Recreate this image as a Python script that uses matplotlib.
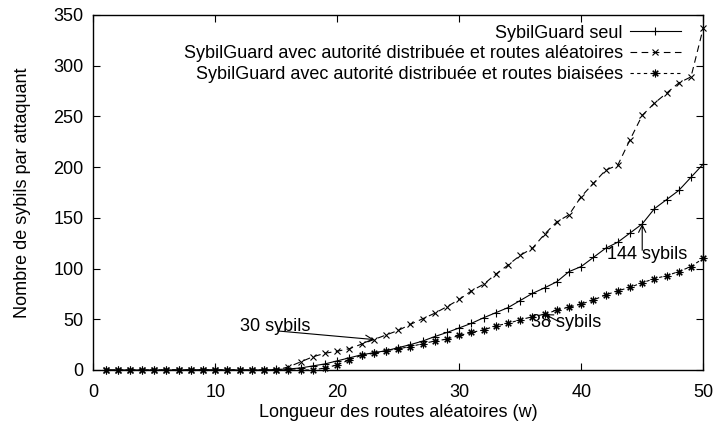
import numpy as np
import matplotlib
matplotlib.use('Agg')
from matplotlib import pyplot as plt

plt.rcParams['font.family'] = ['Liberation Sans', 'DejaVu Sans']
plt.rcParams['font.size'] = 13

# longueur des routes aleatoires
w = np.arange(1, 51)

seul = [0] * 14 + [0.5, 1, 2, 4, 6, 9, 12, 15, 17, 19,
                   22, 25, 28.5, 33, 37, 41.5, 46, 51.5, 56.5, 61.5,
                   68.5, 75.5, 81, 87, 97, 102, 111, 120, 126, 135,
                   144, 159, 168, 177, 190, 203]
aleatoires = [0] * 15 + [3, 8, 13, 16.5, 18.5, 21, 25.5, 30, 34.5,
                         39, 45, 50.5, 56, 62.5, 69.5, 78, 84.5, 94.5, 103.5,
                         113, 120, 134, 146, 153, 171, 184, 197, 202, 227,
                         251, 263, 273, 283, 289, 337]
biaisees = [0] * 18 + [2, 5, 10, 14.5, 16.5, 19,
                       21, 23, 26, 28.5, 30.5, 34, 37, 39.5, 43.5, 46,
                       49.5, 52.5, 55, 59, 62, 65, 69, 74, 78, 81.5,
                       86, 90, 93, 97, 102, 110]

labels = ['SybilGuard seul',
          'SybilGuard avec autorité distribuée et routes aléatoires',
          'SybilGuard avec autorité distribuée et routes biaisées']

fig = plt.figure(figsize=(7.15, 4.38), dpi=100)
ax = fig.add_axes([0.1305, 0.1553, 0.853, 0.8105])

lw = 0.8
ax.plot(w, seul, color='k', lw=lw, marker='+', ms=6, mew=lw,
        clip_on=False, label=labels[0])
ax.plot(w, aleatoires, color='k', lw=lw, ls=(0, (6, 4)), marker='x', ms=5,
        mew=lw, clip_on=False, label=labels[1])
ax.plot(w, biaisees, color='k', lw=lw, ls=(0, (3, 3)), marker=(8, 2, 0),
        ms=5.5, mew=lw, clip_on=False, label=labels[2])

ax.set_xlim(0, 50)
ax.set_ylim(0, 350)
ax.set_xticks(np.arange(0, 51, 10))
ax.set_yticks(np.arange(0, 351, 50))
ax.tick_params(axis='both', direction='in', top=True, right=True, length=5,
               width=0.8, labelsize=13)
ax.tick_params(axis='x', pad=10)
ax.tick_params(axis='y', pad=7)
for s in ax.spines.values():
    s.set_linewidth(1.0)

ax.set_xlabel('Longueur des routes aléatoires (w)', labelpad=2)
ax.set_ylabel('Nombre de sybils par attaquant', labelpad=16)

# annotations
arrow = dict(arrowstyle='->', color='k', lw=0.8, shrinkA=0, shrinkB=0)
ax.text(12.0, 43, '30 sybils', ha='left', va='center')
ax.annotate('', xy=(23, aleatoires[22]), xytext=(15.1, 38.5), arrowprops=arrow)
ax.text(42.1, 114, '144 sybils', ha='left', va='center')
ax.annotate('', xy=(45, seul[44]), xytext=(45, 118), arrowprops=arrow)
ax.text(35.9, 47, '38 sybils', ha='left', va='center')
ax.annotate('', xy=(37, biaisees[36]), xytext=(38.2, 47.5), arrowprops=arrow)

ax.legend(loc='upper right', bbox_to_anchor=(0.975, 0.993), frameon=False,
          markerfirst=False, handlelength=2.8, handletextpad=0.4,
          labelspacing=0.2, borderaxespad=0, fontsize=13)

fig.savefig('out.png', dpi=100)
